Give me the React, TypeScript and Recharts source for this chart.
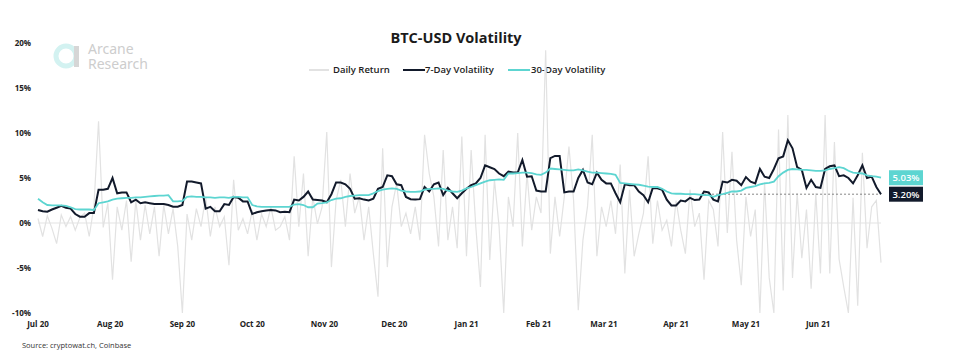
import React from "react";
import { LineChart, Line, XAxis, YAxis, ReferenceLine, ReferenceDot } from "recharts";

// month starts, counted in days from 1 Jul 2020
const monthTicks = [0, 31, 62, 92, 123, 153, 184, 215, 243, 274, 304, 335];
const monthLabels = ["Jul 20", "Aug 20", "Sep 20", "Oct 20", "Nov 20", "Dec 20", "Jan 21", "Feb 21", "Mar 21", "Apr 21", "May 21", "Jun 21"];
const yTicks = [-10, -5, 0, 5, 10, 15, 20];

// one value every second day, in %
const dailyReturn = [
  0.5, -1.5, 0.8, -0.6, -2.3, 0.9, -0.4, 0.7, -0.8, 0.6,
  1.1, -1.5, 1.8, 11.3, -0.5, 2.2, -6.3, 1.8, -0.8, 2.5,
  -4.3, 2.5, -1.9, 2.0, -1.2, 1.8, -3.7, 2.0, -1.2, 1.6,
  -2.6, -10, 1.0, -1.9, 1.6, -0.4, 2.9, -1.5, 1.8, -0.4,
  0.7, -4.7, 4.8, -0.8, 0.5, -1.2, 1.4, -1.9, 1.0, -0.4,
  1.8, -0.8, -0.4, 0.7, -1.9, 7.4, -0.4, 5.5, -3.7, 2.9,
  -0.1, 1.8, 10.1, -4.9, 2.5, 4.8, -0.4, 5.5, 1.1, 2.9,
  -1.9, 1.8, -3.4, -8.2, 8.3, -4.9, 1.8, 4.4, -0.4, 1.1,
  -1.2, 1.8, -1.9, 9.8, 5.5, 2.9, -2.6, 8.1, -1.9, 1.8,
  -2.8, 9.6, -3.7, 8.1, -0.4, -7.1, 9.8, -4.1, 4.8, -0.4,
  -10, 2.9, -0.4, 10, -2.6, 5.5, -0.8, 2.9, 1.1, 19.2,
  -3.4, 2.9, -1.5, 2.9, 8.5, 2.5, -9.7, -1.9, 1.9, 9.8,
  -3.7, 1.8, -0.4, 2.5, -1.2, 6.5, -5.6, 3.7, -3.7, -1.2,
  1.1, 7.4, -2.3, 2.5, -0.8, 0.3, -2.6, 2.5, -0.8, -3.4,
  3.7, -0.4, 1.1, -6.3, 2.5, 1.5, -2.6, 10.1, -1.1, 7.9,
  -1.9, -6.9, 2.9, -1.5, 1.5, -10, 4.5, -6.1, -10, 10.4,
  -7.5, 12, -6.1, 3.3, -3.9, 1.5, -7.3, 3.3, -5.6, 12,
  -5.6, 9, -4, -7.1, -10, 2.8, -9.2, 7.8, -2.8, 1.8,
  2.5, -4.4,
];

const vol7 = [
  1.45, 1.3, 1.25, 1.5, 1.7, 1.9, 1.7, 1.6, 1.0, 0.7,
  0.7, 1.1, 1.1, 3.7, 3.7, 3.8, 5.0, 3.3, 3.4, 3.4,
  2.3, 2.6, 2.2, 2.3, 2.2, 2.1, 2.1, 2.1, 2.0, 1.8,
  1.8, 2.0, 4.6, 4.6, 4.5, 4.4, 1.6, 1.8, 1.3, 1.3,
  2.1, 2.0, 2.9, 2.8, 2.4, 2.4, 1.0, 1.2, 1.3, 1.4,
  1.45, 1.4, 1.2, 1.25, 1.2, 2.6, 2.5, 2.9, 3.5, 2.6,
  2.55, 2.5, 2.3, 3.2, 4.5, 4.5, 4.3, 3.8, 2.7, 2.75,
  2.6, 2.5, 2.7, 3.8, 4.0, 5.3, 5.2, 4.3, 4.2, 2.9,
  2.65, 2.6, 2.65, 4.0, 3.5, 4.3, 4.5, 3.1, 3.9, 3.3,
  2.75, 3.3, 3.8, 4.2, 4.4, 5.0, 6.4, 6.2, 6.0, 5.5,
  5.2, 5.7, 5.6, 5.6, 7.0, 5.15, 5.2, 3.6, 3.5, 3.5,
  7.2, 7.45, 7.45, 3.4, 3.5, 3.5, 5.0, 5.9, 4.5, 4.3,
  5.6, 4.8, 4.4, 4.4, 3.3, 2.3, 4.3, 4.2, 4.2, 3.5,
  3.1, 2.3, 3.9, 3.85, 3.7, 2.6, 1.95, 1.95, 2.5, 2.4,
  2.8, 2.55, 2.6, 3.5, 3.4, 2.6, 2.4, 4.6, 4.5, 4.8,
  4.7, 4.2, 5.1, 4.6, 4.4, 6.0, 5.15, 5.0, 6.0, 7.2,
  7.4, 9.2, 8.3, 6.2, 5.9, 3.9, 4.8, 4.0, 3.9, 6.0,
  6.3, 6.4, 5.2, 5.3, 5.0, 4.4, 5.3, 6.4, 5.0, 5.15,
  4.0, 3.2,
];

const vol30 = [
  2.7, 2.3, 2.0, 1.95, 1.95, 1.95, 1.9, 1.75, 1.55, 1.5,
  1.5, 1.5, 1.45, 2.2, 2.3, 2.4, 2.6, 2.7, 2.75, 2.8,
  2.8, 2.85, 2.85, 2.9, 2.95, 3.0, 3.05, 3.05, 3.1, 2.4,
  2.4, 2.45, 2.9, 2.95, 2.9, 2.9, 2.85, 2.85, 2.8, 2.85,
  2.85, 2.8, 2.9, 2.9, 2.85, 2.85, 2.0, 1.85, 1.8, 1.8,
  1.8, 1.8, 1.8, 1.8, 1.8, 2.05, 2.1, 2.0, 1.75, 1.75,
  2.15, 2.2, 2.3, 2.55, 2.7, 2.75, 2.9, 3.0, 3.05, 3.1,
  3.1, 3.1, 3.3, 3.55, 3.7, 3.8, 3.85, 3.8, 3.6, 3.5,
  3.45, 3.45, 3.5, 3.7, 3.8, 3.8, 3.85, 3.8, 3.6, 3.5,
  3.45, 3.6, 3.85, 4.0, 4.2, 4.4, 4.6, 4.75, 4.8, 4.85,
  4.8, 5.5, 5.5, 5.55, 5.6, 5.6, 5.55, 5.4, 5.35, 5.6,
  6.05, 6.0, 5.95, 5.9, 5.85, 5.85, 5.95, 5.85, 5.7, 5.6,
  5.6, 5.55, 5.5, 5.45, 5.35, 4.45, 4.4, 4.35, 4.3, 4.25,
  4.15, 4.05, 4.0, 4.0, 3.8, 3.5, 3.3, 3.25, 3.25, 3.2,
  3.2, 3.2, 3.15, 3.1, 3.1, 2.9, 3.1, 3.2, 3.35, 3.5,
  3.5, 3.6, 3.9, 4.0, 4.1, 4.3, 4.4, 4.45, 4.6, 5.2,
  5.6, 5.9, 6.0, 5.95, 5.9, 5.9, 5.85, 5.8, 5.8, 5.85,
  6.0, 6.1, 6.2, 6.1, 5.8, 5.6, 5.55, 5.5, 5.3, 5.2,
  5.15, 5.03,
];

const GRAY = "#e2e2e2";
const NAVY = "#121a2b";
const TEAL = "#5dd5d1";
const FONT = "'Open Sans', 'Noto Sans', sans-serif";

const rows = dailyReturn.map((r, i) => ({ day: i * 2, ret: r, v7: vol7[i], v30: vol30[i] }));
const lastDay = rows[rows.length - 1].day;
const last7 = vol7[vol7.length - 1];
const last30 = vol30[vol30.length - 1];

function ValueTag(props: any) {
  const { cx, cy, fill, text } = props;
  return (
    <g>
      <rect x={cx + 8} y={cy - 7.5} width={34} height={15} fill={fill} />
      <text x={cx + 25} y={cy} dy="0.36em" textAnchor="middle" fill="#fff" fontSize={9.5} fontWeight={600} fontFamily={FONT}>
        {text}
      </text>
    </g>
  );
}

function LegendBox() {
  const item = (left: number, lineW: number, gap: number, color: string, label: string) => (
    <div style={{ position: "absolute", left, top: 0, display: "flex", alignItems: "center" }}>
      <span style={{ display: "inline-block", width: lineW, height: color === GRAY ? 1.5 : 2, background: color, marginRight: gap }} />
      <span>{label}</span>
    </div>
  );
  return (
    <div style={{ position: "absolute", left: 0, top: 63, width: 958, height: 14, fontFamily: FONT, fontSize: 9.5, fontWeight: 600, color: "#222", lineHeight: "14px" }}>
      {item(309, 20, 4, GRAY, "Daily Return")}
      {item(403, 22, 0, NAVY, "7-Day Volatility")}
      {item(508, 22, 1, TEAL, "30-Day Volatility")}
    </div>
  );
}

function Watermark() {
  const word = { position: "absolute" as const, left: 88, color: "#cdcdcd", fontSize: 14, lineHeight: "14px", fontFamily: "'Noto Sans', sans-serif" };
  return (
    <>
      <svg style={{ position: "absolute", left: 52, top: 41 }} width={30} height={30} viewBox="0 0 30 30">
        <circle cx={14} cy={15} r={10} fill="none" stroke="#d3f2f1" strokeWidth={5} />
        <rect x={22} y={5} width={5} height={21} fill="#d6d6d6" />
      </svg>
      <div style={{ ...word, top: 42 }}>Arcane</div>
      <div style={{ ...word, top: 57 }}>Research</div>
    </>
  );
}

export default function App() {
  return (
    <div style={{ position: "absolute", left: 0, top: 0, width: 958, height: 356, background: "#fff", fontFamily: FONT }}>
      <Watermark />
      <div style={{ position: "absolute", left: 0, top: 28, width: 912, textAlign: "center", fontSize: 14.5, fontWeight: 700, color: "#1b1b1b" }}>
        BTC-USD Volatility
      </div>
      <LegendBox />
      <div style={{ position: "absolute", left: 0, top: 0 }}>
        <LineChart width={958} height={356} data={rows} margin={{ top: 43, right: 77, bottom: 23, left: 8 }}>
          <XAxis
            dataKey="day"
            type="number"
            domain={[0, lastDay]}
            ticks={monthTicks}
            tickFormatter={(v: number) => monthLabels[monthTicks.indexOf(v)]}
            axisLine={false}
            tickLine={false}
            tickMargin={2}
            height={20}
            interval={0}
            tick={{ fontSize: 8, fontWeight: 700, fill: "#222", fontFamily: FONT }}
          />
          <YAxis
            domain={[-10, 20]}
            ticks={yTicks}
            tickFormatter={(v: number) => `${v}%`}
            axisLine={false}
            tickLine={false}
            tickMargin={1}
            width={30}
            interval={0}
            tick={{ fontSize: 8, fontWeight: 700, fill: "#222", fontFamily: FONT }}
          />
          <ReferenceLine y={0} stroke="#e3e3e3" strokeWidth={1} />
          <Line dataKey="ret" stroke={GRAY} strokeWidth={1.2} dot={false} isAnimationActive={false} />
          <ReferenceLine
            segment={[{ x: 286, y: last7 }, { x: lastDay, y: last7 }]}
            stroke="#666"
            strokeDasharray="2 2"
            strokeWidth={0.8}
          />
          <Line dataKey="v7" stroke={NAVY} strokeWidth={2} dot={false} isAnimationActive={false} />
          <Line dataKey="v30" stroke={TEAL} strokeWidth={1.8} dot={false} isAnimationActive={false} />
          <ReferenceDot x={lastDay} y={last30} r={0} shape={(p: any) => <ValueTag {...p} fill={TEAL} text={`${last30.toFixed(2)}%`} />} />
          <ReferenceDot x={lastDay} y={last7} r={0} shape={(p: any) => <ValueTag {...p} fill={NAVY} text={`${last7.toFixed(2)}%`} />} />
        </LineChart>
      </div>
      <div style={{ position: "absolute", left: 22, top: 340, fontSize: 7.5, color: "#333" }}>Source: cryptowat.ch, Coinbase</div>
    </div>
  );
}
